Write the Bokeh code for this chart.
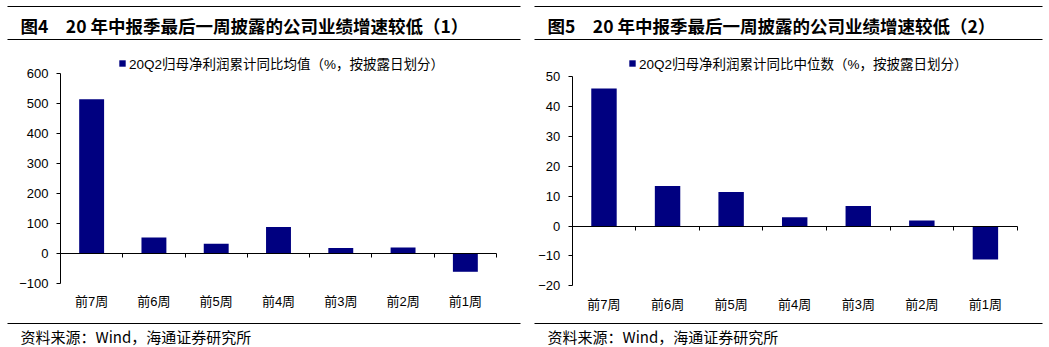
from bokeh.plotting import figure
from bokeh.layouts import row
from bokeh.models import (Range1d, LinearAxis, FixedTicker, Legend, LegendItem,
                          CustomJSTickFormatter, Label, BoxAnnotation)
from bokeh.embed import file_html
from bokeh.resources import INLINE

# ---------------- data ----------------
categories = ["前7周", "前6周", "前5周", "前4周", "前3周", "前2周", "前1周"]
mean_growth = [513, 53, 32, 88, 18, 20, -61]
median_growth = [46, 13.4, 11.4, 2.9, 6.7, 1.8, -11.2]
left_yticks = [-100, 0, 100, 200, 300, 400, 500, 600]
right_yticks = [-20, -10, 0, 10, 20, 30, 40, 50]
title_left = "图4　20 年中报季最后一周披露的公司业绩增速较低（1）"
title_right = "图5　20 年中报季最后一周披露的公司业绩增速较低（2）"
legend_left = "20Q2归母净利润累计同比均值（%，按披露日划分）"
legend_right = "20Q2归母净利润累计同比中位数（%，按披露日划分）"
source_text = "资料来源：Wind，海通证券研究所"

BAR = "#000080"
CJK = "Noto Sans CJK SC"
LAT = "Liberation Sans"
MIX = "Liberation Sans, Noto Sans CJK SC"
H = 347


def hline(x0, x1, y_from_top):
    # thin rule in screen pixels (frame covers whole canvas, y measured upward)
    return BoxAnnotation(left=x0, right=x1, top=H - y_from_top + 0.5,
                         bottom=H - y_from_top - 0.5,
                         left_units="screen", right_units="screen",
                         top_units="screen", bottom_units="screen",
                         fill_color="black", fill_alpha=1.0, line_color=None)


def panel(values, yticks, W, PL, PR, PT, PB, title, legend_label, leg_x, leg_y, standoff):
    n = len(categories)
    xs = list(range(n))
    ymin, ymax = yticks[0], yticks[-1]
    ux = (PR - PL) / n
    uy = (PB - PT) / (ymax - ymin)
    x_range = Range1d(-0.5 - PL / ux, n - 0.5 + (W - PR) / ux)
    y_range = Range1d(ymin - (H - PB) / uy, ymax + PT / uy)

    p = figure(width=W, height=H, output_backend="svg", toolbar_location=None,
               x_range=x_range, y_range=y_range,
               x_axis_location=None, y_axis_location=None, min_border=0)
    p.outline_line_color = None
    p.grid.visible = False

    r = p.vbar(x=xs, top=values, bottom=0, width=0.4, fill_color=BAR, line_color=None)

    ya = LinearAxis(fixed_location=-0.5, bounds=(ymin, ymax), ticker=FixedTicker(ticks=yticks),
                    axis_line_color="black", major_tick_line_color="black",
                    major_tick_in=0, major_tick_out=4, minor_tick_line_color=None,
                    major_label_standoff=8, major_label_text_font=LAT,
                    major_label_text_font_size="13px", major_label_text_color="black")
    p.add_layout(ya, "left")

    lab = LinearAxis(fixed_location=ymin, ticker=FixedTicker(ticks=xs),
                     major_label_overrides={i: c for i, c in enumerate(categories)},
                     axis_line_color=None, major_tick_line_color=None,
                     major_tick_in=0, major_tick_out=0,
                     minor_tick_line_color=None, major_label_standoff=standoff,
                     major_label_text_font=MIX, major_label_text_font_size="13px",
                     major_label_text_color="black")
    p.add_layout(lab, "below")

    zero = LinearAxis(fixed_location=0, bounds=(-0.5, n - 0.5),
                      ticker=FixedTicker(ticks=[i + 0.5 for i in xs]),
                      formatter=CustomJSTickFormatter(code="return ''"),
                      axis_line_color="black", major_tick_line_color="black",
                      major_tick_in=0, major_tick_out=4, minor_tick_line_color=None)
    p.add_layout(zero, "below")

    leg = Legend(items=[LegendItem(label=legend_label, renderers=[r])],
                 location=(leg_x, leg_y), orientation="horizontal",
                 glyph_width=8, glyph_height=8, label_standoff=3, label_height=8,
                 padding=0, margin=0, spacing=0, border_line_color=None,
                 background_fill_alpha=0, label_text_font=MIX,
                 label_text_font_size="13.5px", label_text_color="black")
    p.add_layout(leg, "center")

    # header / footer
    p.add_layout(hline(7, W - 7, 6))
    p.add_layout(hline(7, W - 7, 39))
    p.add_layout(hline(7, W - 7, 323))
    p.add_layout(Label(x=20, y=H - 24.5, x_units="screen", y_units="screen", text=title,
                       text_baseline="middle", text_align="left", text_font=CJK,
                       text_font_style="bold", text_font_size="17.5px", text_color="black"))
    p.add_layout(Label(x=20, y=H - 335.5, x_units="screen", y_units="screen",
                       text=source_text, text_baseline="middle", text_align="left",
                       text_font=CJK, text_font_size="15px", text_color="black"))
    return p


left = panel(mean_growth, left_yticks, 527, 60, 496, 72.7, 283,
             title_left, legend_left, 118, 274.5, 10)
right = panel(median_growth, right_yticks, 522, 44.7, 489.7, 76, 285.3,
              title_right, legend_right, 101, 273.7, 11)

page = row(left, right, spacing=0)
open("out.html", "w").write(file_html(page, INLINE))
